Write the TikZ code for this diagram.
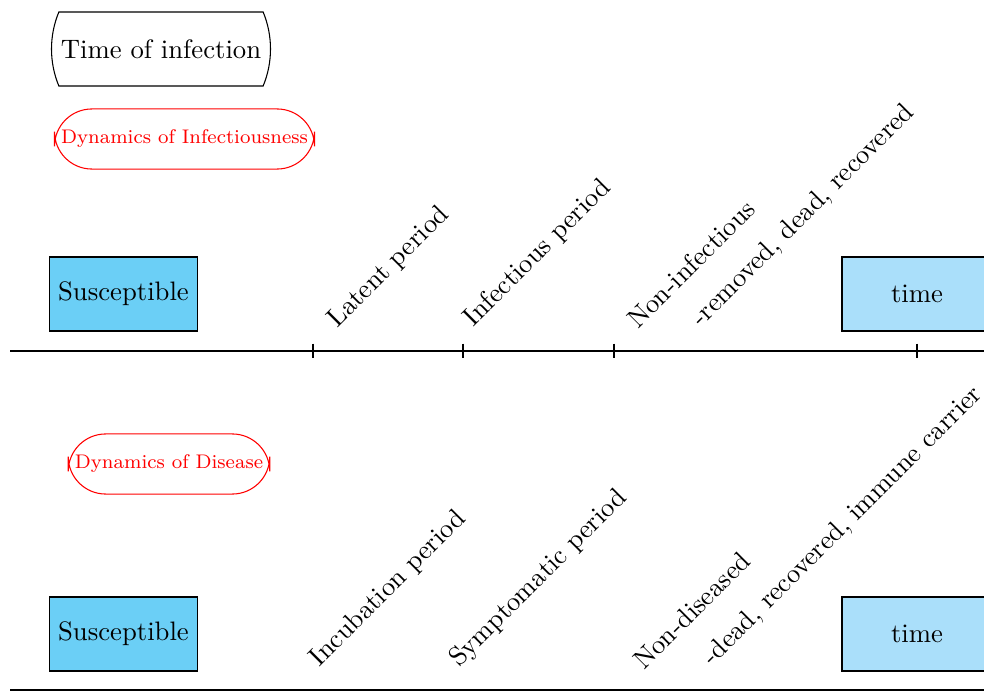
\documentclass[tikz,border=0pt]{standalone}
\usetikzlibrary{shapes.misc}
\definecolor{suscol}{RGB}{107,207,246}
\definecolor{timecol}{RGB}{170,223,250}
\newcommand{\dyntext}[1]{\scalebox{0.984}{#1}}
\tikzset{
  px/.style={x=0.37453pt,y=-0.37453pt},
  susbox/.style={draw,fill=suscol,minimum height=27.7pt},
  timebox/.style={draw,fill=timecol,minimum height=27.7pt,minimum width=56.2pt},
  dynbox/.style={draw=red,text=red,font=\fontsize{7.5}{9}\selectfont,inner xsep=2.5pt,minimum height=22.5pt,rounded corners=14pt},
  headbox/.style={draw,rounded rectangle,rounded rectangle arc length=45,minimum height=27.7pt},
  diaglabel/.style={rotate=45,anchor=base west,inner sep=0pt},
  axis/.style={draw},
  tick/.style={draw}
}
\begin{document}
\begin{tikzpicture}[px]
\useasboundingbox (0,0) rectangle (984,694);
% header
\node[headbox] (toi) at (161,49) {Time of infection};
% top timeline
\node[dynbox] (dyninf) at (184.5,139) {\dyntext{Dynamics of Infectiousness}};
\node[susbox] (sus1) at (123.5,294) {Susceptible};
\node[timebox] (time1) at (917,294) {time};
\coordinate (a1s) at (10,351);
\coordinate (a1e) at (1000,351);
\draw[axis] (a1s) -- (a1e);
\foreach \x/\n in {313/t1,463/t2,614/t3,917/t4}{
  \coordinate (\n) at (\x,351);
  \draw[tick] ([yshift=2.8pt]\n) -- ([yshift=-2.8pt]\n);
}
\node[diaglabel] (lat) at (337,329) {Latent period};
\node[diaglabel] (inf) at (473,328) {Infectious period};
\node[diaglabel] (noninf) at (638,330) {Non-infectious};
\node[diaglabel] (rem) at (701,328) {-removed, dead, recovered};
% bottom timeline
\node[dynbox] (dyndis) at (169,464) {\dyntext{Dynamics of Disease}};
\node[susbox] (sus2) at (123.5,634) {Susceptible};
\node[timebox] (time2) at (917,634) {time};
\coordinate (a2s) at (10,690);
\coordinate (a2e) at (1000,690);
\draw[axis] (a2s) -- (a2e);
\node[diaglabel] (inc) at (319,668) {Incubation period};
\node[diaglabel] (sym) at (459,668) {Symptomatic period};
\node[diaglabel] (nondis) at (644,671) {Non-diseased};
\node[diaglabel] (dead) at (712,667) {-dead, recovered, immune carrier};
\end{tikzpicture}
\end{document}
